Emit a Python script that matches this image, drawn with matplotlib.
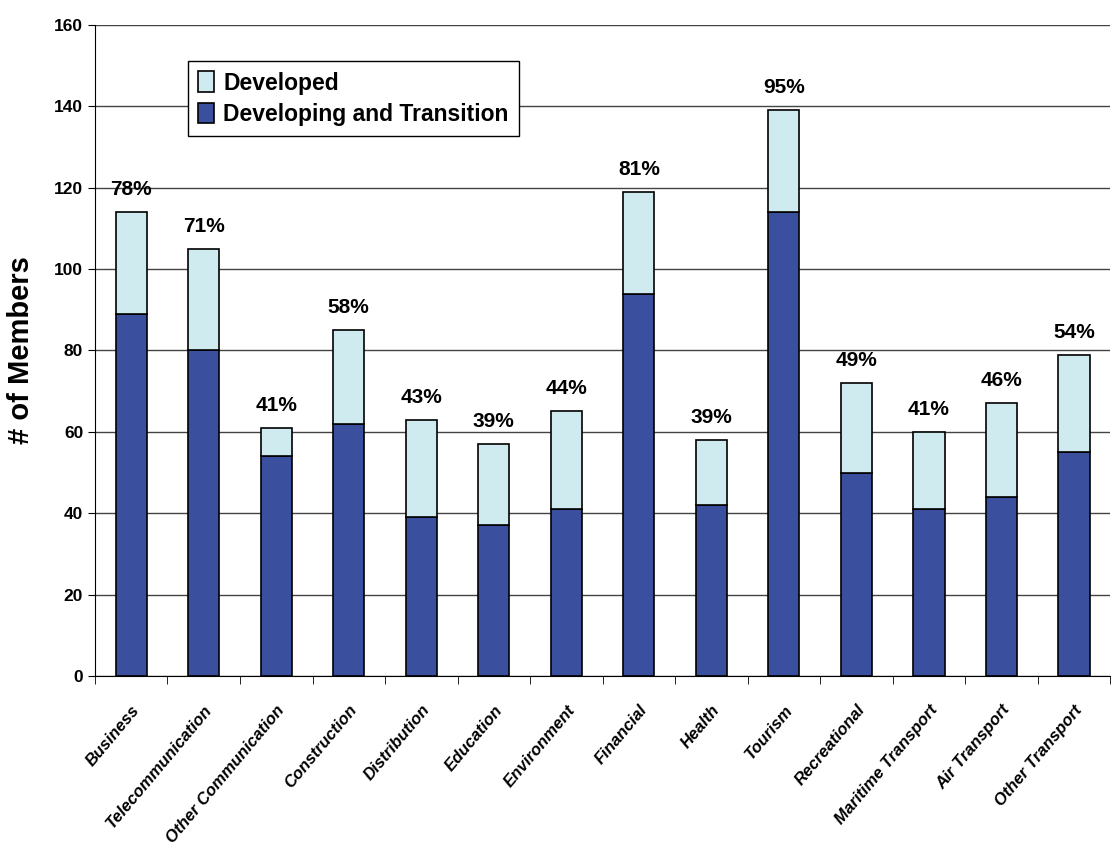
import numpy as np
import matplotlib.pyplot as plt

plt.rcParams['font.family'] = ['Liberation Sans', 'DejaVu Sans']

# data
sectors = ['Business', 'Telecommunication', 'Other Communication', 'Construction',
           'Distribution', 'Education', 'Environment', 'Financial', 'Health',
           'Tourism', 'Recreational', 'Maritime Transport', 'Air Transport',
           'Other Transport']
developing = [89, 80, 54, 62, 39, 37, 41, 94, 42, 114, 50, 41, 44, 55]
total = [114, 105, 61, 85, 63, 57, 65, 119, 58, 139, 72, 60, 67, 79]
pct_labels = ['78%', '71%', '41%', '58%', '43%', '39%', '44%', '81%', '39%',
              '95%', '49%', '41%', '46%', '54%']

developed = [t - d for t, d in zip(total, developing)]

fig = plt.figure(figsize=(11.12, 8.55), dpi=100)
ax = fig.add_axes([0.0854, 0.2094, 0.913, 0.7614])

x = np.arange(len(sectors))
w = 0.43
b1 = ax.bar(x, developing, w, color='#3A509F', edgecolor='black', linewidth=1.2,
            label='Developing and Transition', zorder=3)
b2 = ax.bar(x, developed, w, bottom=developing, color='#CFEBEF', edgecolor='black',
            linewidth=1.2, label='Developed', zorder=3)

# share labels above each stack
for xi, t, lab in zip(x, total, pct_labels):
    ax.text(xi, t + 3.2, lab, ha='center', va='bottom', fontsize=15, fontweight='bold')

ax.set_xlim(-0.5, len(sectors) - 0.5)
ax.set_ylim(0, 160)
ax.set_yticks(range(0, 161, 20))
ax.yaxis.grid(True, color='#444444', linewidth=1, zorder=0)
ax.set_axisbelow(True)

ax.set_xticks(x)
ax.set_xticklabels(sectors, rotation=50, ha='right', rotation_mode='anchor',
                   fontsize=12, fontweight='bold', fontstyle='italic')
ax.set_xticks(np.arange(-0.5, len(sectors), 1), minor=True)
ax.tick_params(axis='x', which='major', length=0, pad=19)
ax.tick_params(axis='x', which='minor', length=6, direction='out')
ax.tick_params(axis='y', length=5, direction='out', labelsize=12.5)
for lab in ax.get_yticklabels():
    lab.set_fontweight('bold')

ax.set_ylabel('# of Members', fontsize=21, fontweight='bold', labelpad=14)

ax.spines['top'].set_visible(False)
ax.spines['right'].set_visible(False)

leg = ax.legend(handles=[b2, b1], loc='upper left', bbox_to_anchor=(0.08, 0.962),
                prop={'weight': 'bold', 'size': 16.5}, frameon=True,
                fancybox=False, edgecolor='black', framealpha=1,
                handlelength=0.7, handleheight=1.0, handletextpad=0.4,
                borderpad=0.45, labelspacing=0.35)
leg.get_frame().set_linewidth(1)

fig.savefig('out.png', dpi=100)
